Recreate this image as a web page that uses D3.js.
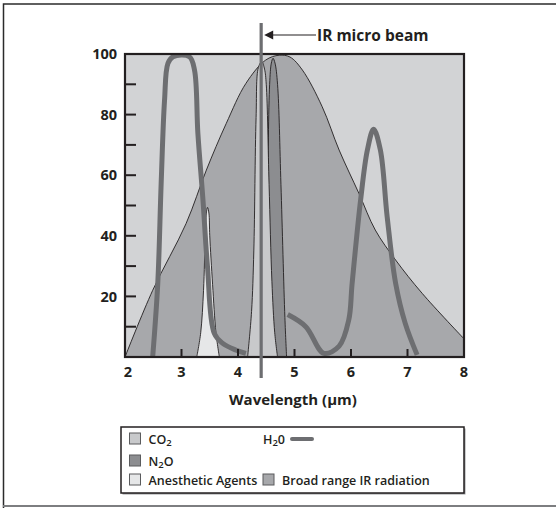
<!DOCTYPE html>
<html>
<head>
<meta charset="utf-8">
<script src="https://cdn.jsdelivr.net/npm/d3@7/dist/d3.min.js"></script>
<style>
  html, body { margin: 0; padding: 0; background: #ffffff; }
  svg { display: block; }
  text { font-family: "Open Sans", "Noto Sans", sans-serif; fill: #231f20; }
</style>
</head>
<body>
<svg id="chart" width="556" height="508"></svg>
<script>
// ---------- data (wavelength in µm, absorption / intensity in %) ----------
const xTickValues = [2, 3, 4, 5, 6, 7, 8];
const yLabelValues = [20, 40, 60, 80, 100];
const yMinorTicks = [10, 20, 30, 40, 50, 60, 70, 80, 90];

const broadIR = [[2,0],[2.49,22],[3.08,44],[3.44,61.7],[3.79,77],[4.14,90.3],[4.49,98],[4.73,99.6],[4.92,99],[5.14,94.7],[5.49,82.6],[5.79,68.3],[6.14,54],[6.43,41.9],[6.79,32],[7.26,21],[8,6]];
const anesthetic = [[3.27,0],[3.34,8],[3.39,22],[3.42,40],[3.44,47.5],[3.46,49.4],[3.485,47.5],[3.5,40],[3.55,24],[3.61,8],[3.67,0]];
const n2o = [[4.47,0],[4.52,50],[4.56,90],[4.59,97],[4.62,98.6],[4.655,97],[4.7,90],[4.76,57],[4.83,13],[4.86,0]];
const co2 = [[4.17,0],[4.24,15],[4.28,35],[4.32,79],[4.36,95.5],[4.42,97.5],[4.47,95],[4.5,90],[4.55,57],[4.6,25],[4.65,8],[4.70,0]];
const h2oA = [[2.49,0],[2.58,24.3],[2.64,57.3],[2.7,84.8],[2.76,96.9],[2.85,99.1],[3.14,99.1],[3.23,94.7],[3.29,73.8],[3.38,51.8],[3.46,29.8],[3.58,7.8],[3.73,4.5],[3.96,2.3],[4.14,1.2]];
const h2oB = [[4.88,14],[5.2,10],[5.52,1.2],[5.79,3.6],[5.96,12.2],[6.02,24.3],[6.17,51.8],[6.29,68.3],[6.4,75.2],[6.52,68.3],[6.64,46.3],[6.79,24.3],[6.96,11.1],[7.17,0.7]];
const microBeam = 4.41;

const legendRows = [
  {label: ["CO", "2", ""], fill: "#c8c9cb", col: 0, row: 0},
  {label: ["N", "2", "O"], fill: "#8c8d90", col: 0, row: 1},
  {label: ["Anesthetic Agents", "", ""], fill: "#e6e7e8", col: 0, row: 2},
  {label: ["Broad range IR radiation", "", ""], fill: "#a7a8ab", col: 1, row: 2}
];

// ---------- setup ----------
const svg = d3.select("#chart");
const x = d3.scaleLinear().domain([2, 8]).range([125, 464]);
const y = d3.scaleLinear().domain([0, 100]).range([357, 54]);
const ink = "#231f20";
const waterCol = "#6d6e71";

// outer frame
svg.append("path")
  .attr("d", "M3.5,508 V4 H556")
  .attr("fill", "none").attr("stroke", "#2b2b2b").attr("stroke-width", 1.5);
svg.append("line").attr("x1", 3).attr("x2", 556).attr("y1", 506).attr("y2", 506)
  .attr("stroke", "#7d7e80").attr("stroke-width", 2);

// plot background
svg.append("rect")
  .attr("x", x(2)).attr("y", y(100))
  .attr("width", x(8) - x(2)).attr("height", y(0) - y(100))
  .attr("fill", "#d2d3d5");

const clip = svg.append("clipPath").attr("id", "plotclip").append("rect")
  .attr("x", x(2)).attr("y", y(100))
  .attr("width", x(8) - x(2)).attr("height", y(0) - y(100));

const plot = svg.append("g").attr("clip-path", "url(#plotclip)");

const curve = d3.curveCatmullRom.alpha(0.5);
const area = d3.area().x(d => x(d[0])).y0(y(0)).y1(d => y(d[1])).curve(curve);
const line = d3.line().x(d => x(d[0])).y(d => y(d[1])).curve(curve);

function band(data, fill) {
  plot.append("path").datum(data)
    .attr("d", area).attr("fill", fill).attr("stroke", "none");
  plot.append("path").datum(data)
    .attr("d", line).attr("fill", "none").attr("stroke", ink).attr("stroke-width", 0.9);
}
band(broadIR, "#a7a8ab");
band(anesthetic, "#e6e7e8");
band(n2o, "#8c8d90");
band(co2, "#c8c9cb");

[h2oA, h2oB].forEach(seg => {
  plot.append("path").datum(seg)
    .attr("d", line).attr("fill", "none")
    .attr("stroke", waterCol).attr("stroke-width", 5)
    .attr("stroke-linecap", "butt").attr("stroke-linejoin", "round");
});

// ticks (inward)
svg.append("g").selectAll("line").data(yMinorTicks).join("line")
  .attr("x1", x(2)).attr("x2", x(2) + 11)
  .attr("y1", d => y(d)).attr("y2", d => y(d))
  .attr("stroke", ink).attr("stroke-width", 2);
svg.append("g").selectAll("line").data(xTickValues.slice(1, -1)).join("line")
  .attr("x1", d => x(d)).attr("x2", d => x(d))
  .attr("y1", y(0)).attr("y2", y(0) - 8)
  .attr("stroke", ink).attr("stroke-width", 2);

// plot border
svg.append("rect")
  .attr("x", x(2)).attr("y", y(100))
  .attr("width", x(8) - x(2)).attr("height", y(0) - y(100))
  .attr("fill", "none").attr("stroke", ink).attr("stroke-width", 2.2);

// micro beam line
svg.append("line")
  .attr("x1", x(microBeam)).attr("x2", x(microBeam))
  .attr("y1", 23).attr("y2", 378)
  .attr("stroke", waterCol).attr("stroke-width", 3.2);

// arrow + label
svg.append("line")
  .attr("x1", x(microBeam) + 7).attr("x2", 316)
  .attr("y1", 35).attr("y2", 35)
  .attr("stroke", ink).attr("stroke-width", 1.2);
svg.append("path")
  .attr("d", `M${x(microBeam) + 3},35 l9,-4.5 v9 z`)
  .attr("fill", ink);
svg.append("text")
  .attr("x", 317).attr("y", 41)
  .attr("font-size", 15.5).attr("font-weight", 700)
  .text("IR micro beam");

// axis labels
svg.append("g").selectAll("text").data(yLabelValues).join("text")
  .attr("x", 117).attr("y", d => y(d)).attr("dy", "0.36em")
  .attr("text-anchor", "end")
  .attr("font-size", 14.5).attr("font-weight", 700)
  .text(d => d);
svg.append("g").selectAll("text").data(xTickValues).join("text")
  .attr("x", d => x(d) + (d === 2 ? 3 : 0)).attr("y", 377)
  .attr("text-anchor", "middle")
  .attr("font-size", 14.5).attr("font-weight", 700)
  .text(d => d);
svg.append("text")
  .attr("x", 293).attr("y", 405)
  .attr("text-anchor", "middle")
  .attr("font-size", 15).attr("font-weight", 700)
  .text("Wavelength (µm)");

// legend
const lg = svg.append("g");
lg.append("rect").attr("x", 122.5).attr("y", 428.5).attr("width", 343).attr("height", 66)
  .attr("fill", "#9a9b9d");
lg.append("rect").attr("x", 121).attr("y", 427).attr("width", 343).attr("height", 66)
  .attr("fill", "#ffffff").attr("stroke", ink).attr("stroke-width", 1.5);

const colX = [129.5, 263];
const rowY = [433, 455, 474];
legendRows.forEach(r => {
  lg.append("rect")
    .attr("x", colX[r.col]).attr("y", rowY[r.row])
    .attr("width", 11).attr("height", 11)
    .attr("fill", r.fill).attr("stroke", "#5a5b5d").attr("stroke-width", 1);
  const t = lg.append("text")
    .attr("x", colX[r.col] + 19).attr("y", rowY[r.row] + 11)
    .attr("font-size", 12.5).attr("font-weight", 600);
  t.append("tspan").text(r.label[0]);
  if (r.label[1]) {
    t.append("tspan").attr("font-size", 9.5).attr("dy", 2).text(r.label[1]);
    t.append("tspan").attr("dy", -2).text(r.label[2]);
  }
});
// H2O legend entry
const ht = lg.append("text").attr("x", 263).attr("y", 444)
  .attr("font-size", 12.5).attr("font-weight", 600);
ht.append("tspan").text("H");
ht.append("tspan").attr("font-size", 9.5).attr("dy", 2).text("2");
ht.append("tspan").attr("dy", -2).text("0");
lg.append("line").attr("x1", 292).attr("x2", 312).attr("y1", 439).attr("y2", 439)
  .attr("stroke", waterCol).attr("stroke-width", 4).attr("stroke-linecap", "round");
</script>
</body>
</html>
